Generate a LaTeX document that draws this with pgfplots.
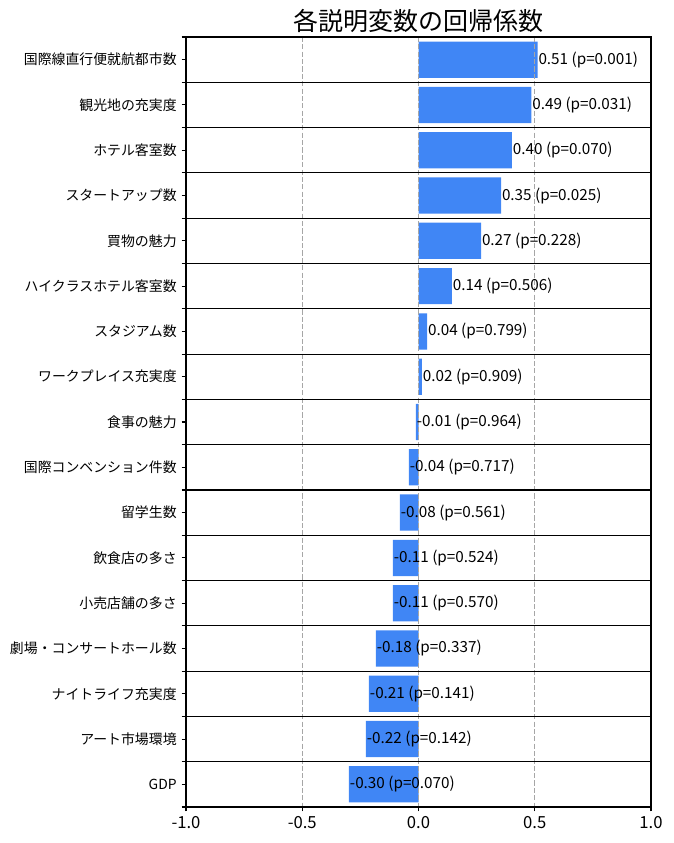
\documentclass[border=0pt]{standalone}
\usepackage{pgfplots}
\pgfplotsset{compat=1.18}
\usepackage{pgfplotstable}
\usepackage{fontspec}
\setmainfont{Noto Sans CJK JP}
\definecolor{barblue}{RGB}{64,134,245}
\pgfplotstableread[col sep=comma]{
y,x,label
0,0.512,0.51 (p=0.001)
1,0.486,0.49 (p=0.031)
2,0.402,0.40 (p=0.070)
3,0.355,0.35 (p=0.025)
4,0.269,0.27 (p=0.228)
5,0.144,0.14 (p=0.506)
6,0.037,0.04 (p=0.799)
7,0.015,0.02 (p=0.909)
8,-0.011,-0.01 (p=0.964)
9,-0.041,-0.04 (p=0.717)
10,-0.080,-0.08 (p=0.561)
11,-0.110,-0.11 (p=0.524)
12,-0.110,-0.11 (p=0.570)
13,-0.183,-0.18 (p=0.337)
14,-0.213,-0.21 (p=0.141)
15,-0.226,-0.22 (p=0.142)
16,-0.299,-0.30 (p=0.070)
}\coef
\begin{document}
\begin{tikzpicture}
\begin{axis}[
  at={(0,0)}, anchor=south west,
  scale only axis, width=334.8pt, height=554.4pt,
  xmin=-1, xmax=1, ymin=-0.5, ymax=16.5, y dir=reverse,
  axis on top,
  axis line style={black, line width=0.8pt},
  xtick={-1,-0.5,0,0.5,1},
  xticklabels={-1.0,-0.5,0.0,0.5,1.0},
  ytick={0,...,16},
  yticklabels={国際線直行便就航都市数,観光地の充実度,ホテル客室数,スタートアップ数,買物の魅力,ハイクラスホテル客室数,スタジアム数,ワークプレイス充実度,食事の魅力,国際コンベンション件数,留学生数,飲食店の多さ,小売店舗の多さ,劇場・コンサートホール数,ナイトライフ充実度,アート市場環境,GDP},
  minor ytick={-0.5,0.5,...,16.5},
  xtick pos=bottom, ytick pos=left,
  tick align=outside,
  major tick length=3.2pt, minor tick length=3.2pt,
  tick style={black, line width=0.8pt},
  xmajorgrids=true, ymajorgrids=false, yminorgrids=true,
  major grid style={black!35, line width=0.8pt, dash pattern=on 3.7pt off 1.6pt},
  minor grid style={black, line width=0.8pt, solid},
  xticklabel style={font=\fontsize{12}{14}\selectfont},
  yticklabel style={font=\fontsize{10}{12}\selectfont},
  title={各説明変数の回帰係数},
  title style={font=\fontsize{18}{21}\selectfont, at={(0.5,1)}, anchor=south, inner sep=0pt, yshift=-3pt},
]
\addplot[xbar, bar width=0.8, fill=barblue, draw=none,
  nodes near coords, point meta=explicit symbolic,
  nodes near coords align={anchor=west},
  every node near coord/.append style={font=\fontsize{11}{13}\selectfont, black, inner xsep=0.5pt}]
  table[x=x, y=y, meta=label] {\coef};
\end{axis}
\path (-133.92pt,-25.92pt) rectangle (350.64pt,581.04pt);
\end{tikzpicture}
\end{document}
